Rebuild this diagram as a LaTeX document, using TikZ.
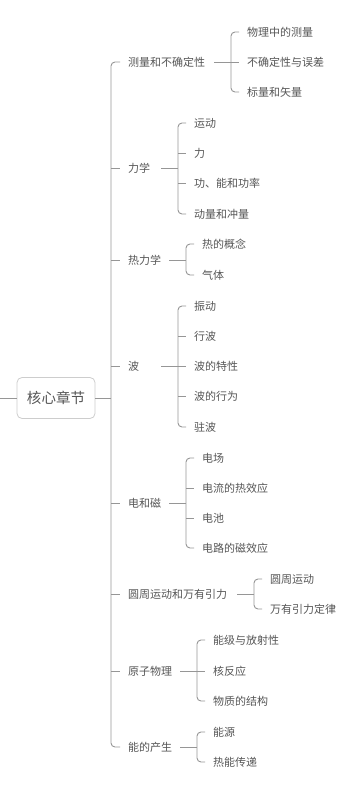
\documentclass[tikz,border=0pt]{standalone}
\usepackage{fontspec}
\setmainfont{Noto Sans CJK SC}
\usepackage{tikz}
\usetikzlibrary{calc}
\definecolor{txt}{RGB}{85,85,85}
\definecolor{edge}{RGB}{150,150,150}
\definecolor{box}{RGB}{205,205,205}

\begin{document}
\begin{tikzpicture}[x=1pt, y=-1pt,
  topic/.style={anchor=west, inner sep=0pt, font=\fontsize{11}{13}\selectfont, text=txt},
  core/.style={draw=box, rounded corners=5pt, line width=0.8pt, minimum width=78pt, minimum height=41pt, font=\fontsize{14.5}{17}\selectfont, text=txt},
  link/.style={draw=edge, line width=0.9pt, rounded corners=4pt}]
\useasboundingbox (0,0) rectangle (350,786);

% root
\coordinate (src) at (0,398);
\node[core] (root) at (56,398) {核心章节};
\draw[link] (src) -- (root.west);

% main topics
\node[topic] (t1) at (128,62) {测量和不确定性};
\node[topic] (t2) at (128,168) {力学};
\node[topic] (t3) at (128,260) {热力学};
\node[topic] (t4) at (128,366) {波};
\node[topic] (t5) at (128,503) {电和磁};
\node[topic] (t6) at (128,594) {圆周运动和万有引力};
\node[topic] (t7) at (128,671) {原子物理};
\node[topic] (t8) at (128,747) {能的产生};
\draw[link] (root.east) -- ($(root.east -| t1.west)+(-17,0)$);
\draw[link] ($(t1.west)+(-8,0)$) -| ($(t8.west)+(-17,0)$) -- ($(t8.west)+(-8,0)$);
\foreach \t in {t2,t3,t4,t5,t6,t7}
  \draw[link] ($(\t.west)+(-17,0)$) -- ++(9,0);

% 测量和不确定性
\node[topic] (t1a) at (247,32) {物理中的测量};
\node[topic] (t1b) at (247,62) {不确定性与误差};
\node[topic] (t1c) at (247,92) {标量和矢量};
\draw[link] ($(t1.east -| t1a.west)+(-33,0)$) -- ++(17,0);
\draw[link] ($(t1a.west)+(-8,0)$) -| ($(t1c.west)+(-16,0)$) -- ($(t1c.west)+(-8,0)$);
\draw[link] ($(t1b.west)+(-16,0)$) -- ++(8,0);

% 力学
\node[topic] (t2a) at (194,123) {运动};
\node[topic] (t2b) at (194,153) {力};
\node[topic] (t2c) at (194,183) {功、能和功率};
\node[topic] (t2d) at (194,214) {动量和冲量};
\draw[link] ($(t2.east -| t2a.west)+(-33,0)$) -- ++(17,0);
\draw[link] ($(t2a.west)+(-8,0)$) -| ($(t2d.west)+(-16,0)$) -- ($(t2d.west)+(-8,0)$);
\foreach \t in {t2b,t2c}
  \draw[link] ($(\t.west)+(-16,0)$) -- ++(8,0);

% 热力学
\node[topic] (t3a) at (202,244) {热的概念};
\node[topic] (t3b) at (202,275) {气体};
\draw[link] ($(t3.east -| t3a.west)+(-33,0)$) -- ++(17,0);
\draw[link] ($(t3a.west)+(-8,0)$) -| ($(t3b.west)+(-16,0)$) -- ($(t3b.west)+(-8,0)$);

% 波
\node[topic] (t4a) at (194,306) {振动};
\node[topic] (t4b) at (194,336) {行波};
\node[topic] (t4c) at (194,366) {波的特性};
\node[topic] (t4d) at (194,396) {波的行为};
\node[topic] (t4e) at (194,427) {驻波};
\draw[link] ($(t4.east -| t4a.west)+(-33,0)$) -- ++(17,0);
\draw[link] ($(t4a.west)+(-8,0)$) -| ($(t4e.west)+(-16,0)$) -- ($(t4e.west)+(-8,0)$);
\foreach \t in {t4b,t4c,t4d}
  \draw[link] ($(\t.west)+(-16,0)$) -- ++(8,0);

% 电和磁
\node[topic] (t5a) at (202,458) {电场};
\node[topic] (t5b) at (202,488) {电流的热效应};
\node[topic] (t5c) at (202,518) {电池};
\node[topic] (t5d) at (202,548) {电路的磁效应};
\draw[link] ($(t5.east -| t5a.west)+(-33,0)$) -- ++(17,0);
\draw[link] ($(t5a.west)+(-8,0)$) -| ($(t5d.west)+(-16,0)$) -- ($(t5d.west)+(-8,0)$);
\foreach \t in {t5b,t5c}
  \draw[link] ($(\t.west)+(-16,0)$) -- ++(8,0);

% 圆周运动和万有引力
\node[topic] (t6a) at (270,579) {圆周运动};
\node[topic] (t6b) at (270,609) {万有引力定律};
\draw[link] ($(t6.east -| t6a.west)+(-33,0)$) -- ++(17,0);
\draw[link] ($(t6a.west)+(-8,0)$) -| ($(t6b.west)+(-16,0)$) -- ($(t6b.west)+(-8,0)$);

% 原子物理
\node[topic] (t7a) at (213,640) {能级与放射性};
\node[topic] (t7b) at (213,671) {核反应};
\node[topic] (t7c) at (213,701) {物质的结构};
\draw[link] ($(t7.east -| t7a.west)+(-33,0)$) -- ++(17,0);
\draw[link] ($(t7a.west)+(-8,0)$) -| ($(t7c.west)+(-16,0)$) -- ($(t7c.west)+(-8,0)$);
\draw[link] ($(t7b.west)+(-16,0)$) -- ++(8,0);

% 能的产生
\node[topic] (t8a) at (213,732) {能源};
\node[topic] (t8b) at (213,762) {热能传递};
\draw[link] ($(t8.east -| t8a.west)+(-33,0)$) -- ++(17,0);
\draw[link] ($(t8a.west)+(-8,0)$) -| ($(t8b.west)+(-16,0)$) -- ($(t8b.west)+(-8,0)$);
\end{tikzpicture}
\end{document}
